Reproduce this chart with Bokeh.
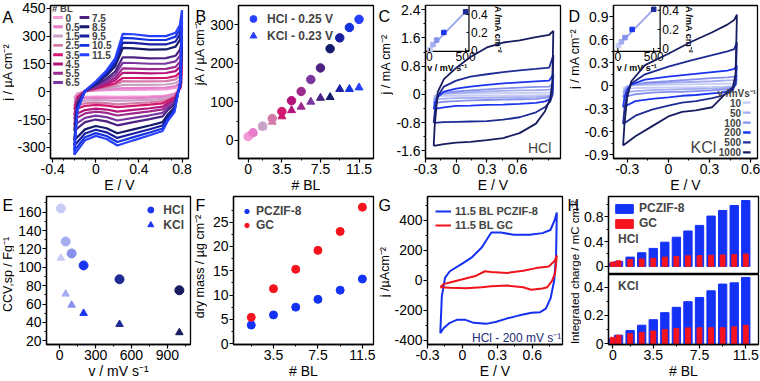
import numpy as np
from bokeh.plotting import figure
from bokeh.models import Range1d, FixedTicker, Legend, LegendItem, Label, BoxAnnotation
from bokeh.layouts import row, column
from bokeh.embed import file_html
from bokeh.resources import INLINE
from bokeh.core.properties import value

FONT = "Liberation Sans"

# ------------------------------------------------------------------ data
bl_layers = [0, 0.5, 1.5, 2.5, 3.5, 4.5, 5.5, 6.5, 7.5, 8.5, 9.5, 10.5, 11.5]
bl_labels = ["0", "0.5", "1.5", "2.5", "3.5", "4.5", "5.5", "6.5", "7.5", "8.5", "9.5", "10.5", "11.5"]
bl_colors = ["#f29ad6", "#e77dca", "#c8a2c6", "#d57aa8", "#d2186e", "#b3137b", "#9d2a8d",
             "#7a369f", "#4c2284", "#141a6c", "#1a1fa2", "#1432de", "#2740ff"]

# panel A : CVs (HCl) for each bilayer number, anodic and cathodic sweeps
cvA_E_fwd = [-0.2, -0.17, -0.1, 0.0, 0.1, 0.18, 0.25, 0.35, 0.5, 0.65, 0.74, 0.78, 0.8]
cvA_E_rev = [0.8, 0.785, 0.73, 0.67, 0.62, 0.5, 0.35, 0.2, 0.1, 0.0, -0.1, -0.2]
cvA_j_fwd = [
    [-30, -10, 2, 6, 9, 10, 10, 10, 11, 13, 20, 35, 60],
    [-40, -13, 2, 8, 12, 16, 20, 20, 21, 22, 30, 46, 73],
    [-58, -18, 2, 10, 18, 25, 37, 37, 37, 39, 47, 64, 94],
    [-78, -24, 3, 14, 25, 36, 57, 56, 56, 57, 66, 85, 119],
    [-96, -29, 3, 16, 32, 46, 74, 74, 73, 74, 84, 104, 141],
    [-125, -38, 3, 21, 41, 62, 102, 102, 99, 101, 111, 134, 176],
    [-149, -45, 3, 25, 50, 75, 126, 125, 122, 123, 134, 160, 206],
    [-180, -54, 4, 30, 60, 92, 156, 155, 151, 152, 164, 193, 244],
    [-211, -63, 4, 35, 71, 109, 186, 185, 180, 181, 194, 225, 282],
    [-262, -77, 4, 43, 88, 137, 236, 234, 227, 228, 243, 278, 344],
    [-291, -86, 5, 47, 98, 153, 265, 263, 255, 255, 271, 309, 380],
    [-318, -94, 5, 52, 107, 168, 290, 288, 279, 279, 297, 337, 413],
    [-340, -100, 5, 55, 115, 180, 312, 310, 300, 300, 318, 360, 440],
]
cvA_j_rev = [
    [60, 15, -10, -18, -22, -25, -26, -27, -26, -26, -27, -30],
    [73, 17, -13, -23, -28, -32, -34, -36, -34, -33, -35, -40],
    [94, 19, -19, -30, -39, -44, -47, -50, -46, -45, -48, -58],
    [119, 22, -25, -39, -51, -57, -62, -68, -61, -59, -63, -78],
    [141, 25, -31, -47, -63, -70, -76, -83, -75, -71, -77, -96],
    [176, 29, -41, -60, -80, -89, -98, -107, -96, -91, -99, -125],
    [206, 32, -48, -71, -95, -106, -117, -128, -114, -107, -117, -149],
    [244, 37, -59, -84, -114, -127, -141, -155, -137, -129, -141, -180],
    [282, 41, -68, -98, -133, -148, -164, -181, -160, -150, -164, -211],
    [344, 49, -85, -121, -164, -182, -203, -224, -197, -185, -203, -262],
    [380, 53, -94, -134, -182, -202, -225, -249, -219, -205, -225, -291],
    [413, 57, -103, -145, -198, -220, -245, -271, -239, -223, -245, -318],
    [440, 60, -110, -155, -212, -235, -262, -290, -255, -238, -262, -340],
]

# panel B : anodic peak currents
peak_hcl = [10, 20, 37, 57, 75, 103, 127, 158, 188, 238, 266, 293, 314]
peak_kcl = [10, 19, 34, 48, 62, 78, 87, 100, 110, 112, 133, 133, 137]

# scan rates (C, D, E)
scan_rates = [10, 50, 100, 200, 500, 1000]
rate_labels = ["10", "50", "100", "200", "500", "1000"]
rate_colors = ["#c6ccf4", "#a4adf0", "#8591ec", "#1b34f0", "#1e2b94", "#161c5e"]

# panel C : HCl CVs at several scan rates (mA cm-2)
cvC_E_up = [-0.22, -0.21, -0.18, -0.12, 0.0, 0.14, 0.3, 0.46, 0.62, 0.78, 0.91, 0.95]
cvC_E_dn = [0.95, 0.94, 0.92, 0.87, 0.78, 0.62, 0.46, 0.3, 0.14, 0.0, -0.12, -0.22]
cvC_j_up = [
    [-0.05, -0.03, -0.01, 0.01, 0.02, 0.025, 0.03, 0.035, 0.04, 0.045, 0.05, 0.08],
    [-0.14, -0.09, -0.02, 0.02, 0.04, 0.06, 0.08, 0.1, 0.11, 0.12, 0.13, 0.2],
    [-0.25, -0.15, -0.03, 0.04, 0.08, 0.11, 0.14, 0.17, 0.19, 0.21, 0.22, 0.32],
    [-0.42, -0.25, -0.08, 0.08, 0.16, 0.22, 0.27, 0.31, 0.34, 0.37, 0.39, 0.57],
    [-0.81, -0.5, -0.05, 0.22, 0.39, 0.5, 0.57, 0.63, 0.68, 0.72, 0.76, 1.11],
    [-1.46, -0.9, 0.07, 0.43, 0.75, 1.06, 1.33, 1.47, 1.53, 1.62, 1.69, 1.8],
]
cvC_j_dn = [
    [0.08, 0.0, -0.015, -0.02, -0.025, -0.03, -0.035, -0.04, -0.04, -0.04, -0.045, -0.05],
    [0.2, 0.0, -0.04, -0.06, -0.07, -0.08, -0.09, -0.1, -0.1, -0.11, -0.12, -0.14],
    [0.32, -0.01, -0.07, -0.1, -0.13, -0.14, -0.15, -0.16, -0.17, -0.19, -0.21, -0.25],
    [0.57, -0.02, -0.13, -0.2, -0.24, -0.27, -0.29, -0.3, -0.32, -0.33, -0.37, -0.42],
    [1.11, -0.02, -0.2, -0.36, -0.51, -0.65, -0.72, -0.76, -0.77, -0.78, -0.79, -0.81],
    [1.8, 0.34, -0.11, -0.47, -0.83, -1.1, -1.24, -1.3, -1.35, -1.37, -1.41, -1.46],
]
insC_v = [10, 50, 100, 200, 500]
insC_j = [0.01, 0.065, 0.115, 0.2, 0.43]
insC_fit_v = [0, 510]
insC_fit_j = [0.015, 0.44]

# panel D : KCl CVs at several scan rates (mA cm-2)
cvD_E_up = [-0.33, -0.32, -0.3, -0.27, -0.17, 0.0, 0.16, 0.32, 0.43, 0.48, 0.5]
cvD_E_dn = [0.5, 0.49, 0.47, 0.43, 0.39, 0.32, 0.2, 0.1, 0.0, -0.12, -0.24, -0.33]
cvD_j_up = [
    [-0.04, -0.02, -0.005, 0.005, 0.01, 0.015, 0.02, 0.025, 0.03, 0.03, 0.04],
    [-0.09, -0.05, -0.01, 0.01, 0.025, 0.04, 0.05, 0.06, 0.07, 0.075, 0.09],
    [-0.15, -0.08, -0.02, 0.01, 0.04, 0.06, 0.08, 0.1, 0.11, 0.12, 0.14],
    [-0.28, -0.15, -0.05, 0.02, 0.08, 0.12, 0.15, 0.18, 0.2, 0.22, 0.27],
    [-0.5, -0.3, -0.1, 0.03, 0.15, 0.25, 0.33, 0.4, 0.45, 0.48, 0.57],
    [-0.78, -0.5, -0.15, 0.06, 0.27, 0.42, 0.57, 0.7, 0.8, 0.86, 0.93],
]
cvD_j_dn = [
    [0.04, 0.005, -0.005, -0.01, -0.012, -0.015, -0.018, -0.02, -0.022, -0.025, -0.03, -0.04],
    [0.09, 0.01, -0.01, -0.02, -0.03, -0.035, -0.04, -0.045, -0.05, -0.055, -0.07, -0.09],
    [0.14, 0.01, -0.02, -0.04, -0.05, -0.06, -0.07, -0.08, -0.08, -0.09, -0.11, -0.15],
    [0.27, 0.02, -0.04, -0.07, -0.09, -0.1, -0.12, -0.13, -0.15, -0.17, -0.2, -0.28],
    [0.57, 0.05, -0.06, -0.1, -0.13, -0.16, -0.2, -0.22, -0.26, -0.31, -0.39, -0.5],
    [0.93, 0.15, -0.02, -0.08, -0.15, -0.28, -0.32, -0.34, -0.4, -0.53, -0.66, -0.78],
]
insD_v = [10, 50, 100, 200, 500]
insD_j = [0.03, 0.07, 0.115, 0.2, 0.41]
insD_fit_v = [0, 510]
insD_fit_j = [0.025, 0.42]

# panel E : specific capacitance vs scan rate
csp_hcl = [164, 128, 115, 102, 87, 75]
csp_kcl = [110, 71, 59, 50, 38, 29]

# panel F : dry mass
mass_bl = [1.5, 3.5, 5.5, 7.5, 9.5, 11.5]
mass_pczif = [3.8, 5.9, 7.5, 9.1, 11.0, 13.3]
mass_gc = [5.4, 11.3, 15.3, 19.2, 23.1, 28.1]

# panel G : 11.5 BL CVs, HCl 200 mV/s
cvG_pczif_E = [-0.19, -0.177, -0.149, -0.108, 0.002, 0.084, 0.166, 0.248, 0.331, 0.44, 0.578, 0.687,
               0.756, 0.792, 0.811, 0.805, 0.789, 0.758, 0.717, 0.665, 0.594, 0.49, 0.386, 0.284,
               0.202, 0.097, 0.026, -0.048, -0.108, -0.16, -0.19]
cvG_pczif_j = [-355, -110, 17, 60, 113, 155, 219, 319, 319, 304, 304, 315,
               336, 400, 453, 170, 0, -120, -190, -215, -218, -235, -255, -280,
               -292, -285, -265, -265, -285, -320, -355]
cvG_gc_E = [-0.19, -0.163, -0.108, 0.002, 0.111, 0.194, 0.248, 0.386, 0.523, 0.632, 0.742, 0.797,
            0.811, 0.797, 0.77, 0.729, 0.687, 0.591, 0.523, 0.386, 0.248, 0.166, 0.03, -0.108, -0.19]
cvG_gc_j = [-47, -26, -15, 6, 28, 60, 55, 49, 64, 81, 91, 134,
            166, 49, -4, -47, -55, -64, -47, -36, -40, -47, -53, -51, -47]

# panel H : integrated charge
charge_hcl_pczif = [0.05, 0.08, 0.15, 0.22, 0.29, 0.39, 0.47, 0.57, 0.66, 0.81, 0.90, 0.98, 1.06]
charge_hcl_gc = [0.07, 0.09, 0.11, 0.12, 0.13, 0.15, 0.16, 0.17, 0.175, 0.18, 0.185, 0.19, 0.2]
charge_kcl_pczif = [0.035, 0.06, 0.093, 0.131, 0.17, 0.22, 0.258, 0.298, 0.328, 0.375, 0.423, 0.432, 0.47]
charge_kcl_gc = [0.045, 0.06, 0.07, 0.08, 0.09, 0.1, 0.108, 0.112, 0.113, 0.113, 0.113, 0.12, 0.13]

BLUE = "#1432f5"
RED = "#f5141e"
NAVY = "#1c2a78"

FS = "14px"

# ------------------------------------------------------------------ helpers
def make_fig(w, h, xr, yr, bl, br, bt, bb, xaxis=True):
    p = figure(width=w, height=h, x_range=Range1d(*xr), y_range=Range1d(*yr),
               toolbar_location=None, output_backend="svg",
               x_axis_location="below" if xaxis else None,
               min_border_left=bl, min_border_right=br, min_border_top=bt, min_border_bottom=bb)
    p.grid.visible = False
    p.outline_line_color = "black"
    p.outline_line_width = 1.3
    p.outline_line_alpha = 1.0
    p.background_fill_color = "white"
    p.border_fill_color = "white"
    return p


def style_axis(ax, ticks, minor, label=None):
    ax.ticker = FixedTicker(ticks=ticks, minor_ticks=minor)
    ax.major_label_overrides = {t: f"{t:g}" for t in ticks}
    ax.axis_label = label
    ax.axis_label_text_font = FONT
    ax.axis_label_text_font_size = FS
    ax.axis_label_text_font_style = "normal"
    ax.axis_label_text_color = "black"
    ax.major_label_text_font = FONT
    ax.major_label_text_font_size = FS
    ax.major_label_text_color = "black"
    ax.major_tick_in = 0
    ax.major_tick_out = 4
    ax.minor_tick_in = 0
    ax.minor_tick_out = 2
    ax.major_label_standoff = 1
    ax.axis_label_standoff = 0
    ax.axis_line_width = 1.3
    ax.major_tick_line_width = 1.2
    ax.minor_tick_line_width = 1


def strip(w, h, letter, title, center_px, lx_px=0, ltop=0, tfs="12.5px"):
    """narrow figure holding a panel letter and the rotated y-axis title"""
    s = figure(width=w, height=h, x_range=Range1d(0, w), y_range=Range1d(0, h),
               x_axis_type=None, y_axis_type=None,
               toolbar_location=None, output_backend="svg", min_border=0)
    s.grid.visible = False
    s.outline_line_color = None
    s.border_fill_color = "white"
    s.background_fill_color = "white"
    s.add_layout(Label(x=lx_px, y=h - ltop, text=letter, text_font=FONT, text_font_size="16px",
                       text_baseline="top", text_align="left", text_color="black"))
    s.add_layout(Label(x=w / 2, y=h - center_px, text=title, angle=np.pi / 2, text_font=FONT,
                       text_font_size=tfs, text_align="center", text_baseline="middle",
                       text_color="black"))
    return s


def legend(items, **kw):
    base = dict(background_fill_alpha=0, border_line_alpha=0,
                label_text_font=FONT, label_text_font_style="bold",
                label_text_font_size="11px", padding=2, margin=3, spacing=0,
                label_standoff=4)
    base.update(kw)
    return Legend(items=items, **base)


R1, R2 = 195, 186
BB = 33
T1, T2 = 5, 1

# ------------------------------------------------------------------ A
pA = make_fig(178, R1, (-0.42, 0.86), (-360, 465), 33, 4, T1, BB)
style_axis(pA.xaxis[0], [-0.4, 0, 0.4, 0.8], [-0.3, -0.2, -0.1, 0.1, 0.2, 0.3, 0.5, 0.6, 0.7], "E / V")
style_axis(pA.yaxis[0], [-300, -150, 0, 150, 300, 450], [-225, -75, 75, 225, 375])
for k in range(len(bl_layers)):
    pA.line(cvA_E_fwd + cvA_E_rev[1:], cvA_j_fwd[k] + cvA_j_rev[k][1:],
            line_color=bl_colors[k], line_width=2.2)
# two-column legend "# BL"
pA.add_layout(Label(x=-0.405, y=447, text="# BL", text_font=FONT, text_font_size="9.5px",
                    text_font_style="bold", text_baseline="middle", text_align="left"))
for k in range(len(bl_layers)):
    col, r = divmod(k, 8)
    x0 = -0.395 + col * 0.245
    yk = 400 - r * 50
    pA.add_layout(BoxAnnotation(left=x0, right=x0 + 0.09, bottom=yk - 8, top=yk + 8,
                                fill_color=bl_colors[k], fill_alpha=1, line_alpha=0))
    pA.add_layout(Label(x=x0 + 0.115, y=yk, text=bl_labels[k], text_font=FONT,
                        text_font_size="10px", text_font_style="bold",
                        text_baseline="middle", text_align="left"))
sA = strip(14, R1, "A", "j / µA cm⁻²", 85, lx_px=2, ltop=5)

# ------------------------------------------------------------------ B
pB = make_fig(171, R1, (-1.0, 13.0), (-47, 350), 29, 5, T1, BB)
style_axis(pB.xaxis[0], [0, 3.5, 7.5, 11.5], [1.5, 5.5, 9.5], "# BL")
style_axis(pB.yaxis[0], [0, 100, 200, 300], [50, 150, 250])
rB_k = pB.scatter(bl_layers, peak_kcl, marker="triangle", size=8, color=bl_colors)
rB_h = pB.scatter(bl_layers, peak_hcl, marker="circle", size=8.5, color=bl_colors)
pB.add_layout(legend([LegendItem(label="HCl - 0.25 V", renderers=[rB_h], index=12),
                      LegendItem(label="KCl - 0.23 V", renderers=[rB_k], index=12)],
                     location="top_left", glyph_width=20, glyph_height=17, label_height=17,
                     label_text_font_size="12px", margin=3))
sB = strip(15, R1, "B", "jA / µA cm⁻²", 60, lx_px=3, ltop=3)

# ------------------------------------------------------------------ C
pC = make_fig(174, R1, (-0.3, 1.02), (-1.82, 2.52), 31, 7, T1, BB)
style_axis(pC.xaxis[0], [-0.3, 0, 0.3, 0.6], [-0.15, 0.15, 0.45, 0.75, 0.9], "E / V")
style_axis(pC.yaxis[0], [-1.6, -0.8, 0, 0.8, 1.6, 2.4], [-1.2, -0.4, 0.4, 1.2, 2.0])


def inset(p, xs, ys, xt, yt, v, j, fv, fj, title_dx):
    ins = p.subplot(x_source=Range1d(*xs), y_source=Range1d(*ys),
                    x_target=Range1d(*xt), y_target=Range1d(*yt))
    ins.quad(left=[xs[0]], right=[xs[1]], bottom=[ys[0]], top=[ys[1]],
             fill_color="white", line_color="black", line_width=1.2)
    ins.line(fv, fj, line_color="#9ea8e8", line_width=2)
    ins.scatter(v, j, marker="square", size=4.5, color=rate_colors[:5])
    xt_ticks = [0, 500]
    yt_ticks = [0, 0.2, 0.4]
    ins.segment(x0=xt_ticks, x1=xt_ticks, y0=[ys[0]] * 2, y1=[ys[0] + 0.035] * 2, line_color="black")
    ins.segment(x0=[xs[1]] * 3, x1=[xs[1] - 35] * 3, y0=yt_ticks, y1=yt_ticks, line_color="black")
    ins.text(x=xt_ticks, y=[ys[0]] * 2, y_offset=1, text=["0", "500"], text_align="center",
             text_baseline="top", text_font=value(FONT), text_font_size="12px")
    ins.text(x=[xs[1]] * 3, y=yt_ticks, x_offset=2, text=["0", "0.2", "0.4"], text_align="left",
             text_baseline="middle", text_font=value(FONT), text_font_size="12px")
    ins.text(x=[xs[1]], y=[(ys[0] + ys[1]) / 2], x_offset=title_dx, text=["jA /mA cm⁻²"],
             angle=-np.pi / 2, text_align="center", text_baseline="middle",
             text_font=value(FONT), text_font_size="9px", text_font_style="bold")
    ins.text(x=[(xs[0] + xs[1]) / 2], y=[ys[0]], y_offset=12, text=["v / mV s⁻¹"],
             text_align="center", text_baseline="top", text_font=value(FONT),
             text_font_size="9px", text_font_style="bold")


inset(pC, (-53, 546), (-0.01, 0.5), (-0.3, 0.125), (1.22, 2.52),
      insC_v, insC_j, insC_fit_v, insC_fit_j, 29)
for k in range(len(scan_rates)):
    pC.line(cvC_E_up + cvC_E_dn[1:], cvC_j_up[k] + cvC_j_dn[k][1:],
            line_color=rate_colors[k], line_width=1.8)
pC.add_layout(Label(x=0.93, y=-1.52, text="HCl", text_font=FONT, text_font_size="14px",
                    text_align="right", text_baseline="middle"))
sC = strip(15, R1, "C", "j / mA cm⁻²", 75, lx_px=0, ltop=3)

# ------------------------------------------------------------------ D
pD = make_fig(179, R1, (-0.4, 0.65), (-0.95, 1.05), 30, 3, T1, BB)
style_axis(pD.xaxis[0], [-0.3, 0, 0.3, 0.6], [-0.15, 0.15, 0.45], "E / V")
style_axis(pD.yaxis[0], [-0.9, -0.6, -0.3, 0, 0.3, 0.6, 0.9],
           [-0.75, -0.45, -0.15, 0.15, 0.45, 0.75])
inset(pD, (-60, 589), (-0.03, 0.45), (-0.4, -0.06), (0.45, 1.05),
      insD_v, insD_j, insD_fit_v, insD_fit_j, 29)
for k in range(len(scan_rates)):
    pD.line(cvD_E_up + cvD_E_dn[1:], cvD_j_up[k] + cvD_j_dn[k][1:],
            line_color=rate_colors[k], line_width=1.8)
pD.add_layout(Label(x=0.64, y=-0.1, text="v /mVs⁻¹", text_font=FONT,
                    text_font_size="10px", text_font_style="bold", text_align="right",
                    text_baseline="middle"))
for k in range(len(scan_rates)):
    yk = -0.22 - 0.13 * k
    pD.add_layout(Label(x=0.53, y=yk, text=rate_labels[k], text_font=FONT,
                        text_font_size="10px", text_font_style="bold", text_align="right",
                        text_baseline="middle"))
    pD.add_layout(BoxAnnotation(left=0.545, right=0.6, bottom=yk - 0.015, top=yk + 0.015,
                                fill_color=rate_colors[k], fill_alpha=1, line_alpha=0))
pD.add_layout(Label(x=0.35, y=-0.8, text="KCl", text_font=FONT, text_font_size="16px",
                    text_align="right", text_baseline="middle"))
sD = strip(14, R1, "D", "j / mA cm⁻²", 68, lx_px=1, ltop=3)

# ------------------------------------------------------------------ E
pE = make_fig(178, R2, (-110, 1093), (16, 177), 32, 2, T2, BB)
style_axis(pE.xaxis[0], [0, 300, 600, 900], [150, 450, 750, 1050], "v / mV s⁻¹")
style_axis(pE.yaxis[0], [20, 40, 60, 80, 100, 120, 140, 160],
           [30, 50, 70, 90, 110, 130, 150, 170])
rE_h = pE.scatter(scan_rates, csp_hcl, marker="circle", size=9, color=rate_colors)
rE_k = pE.scatter(scan_rates, csp_kcl, marker="triangle", size=7.5, color=rate_colors)
pE.add_layout(legend([LegendItem(label="HCl", renderers=[rE_h], index=3),
                      LegendItem(label="KCl", renderers=[rE_k], index=3)],
                     location="top_right", glyph_width=18, glyph_height=15, label_height=15,
                     label_text_font_size="12px", margin=4))
sE = strip(14, R2, "E", "CCV,sp / Fg⁻¹", 98, lx_px=2, ltop=0)

# ------------------------------------------------------------------ F
pF = make_fig(171, R2, (-0.1, 12.5), (-0.2, 30.3), 26, 5, T2, BB)
style_axis(pF.xaxis[0], [3.5, 7.5, 11.5], [1.5, 5.5, 9.5], "# BL")
style_axis(pF.yaxis[0], [0, 5, 10, 15, 20, 25], [2.5, 7.5, 12.5, 17.5, 22.5, 27.5])
rF_p = pF.scatter(mass_bl, mass_pczif, marker="circle", size=8, color=BLUE)
rF_g = pF.scatter(mass_bl, mass_gc, marker="circle", size=8, color=RED)
pF.add_layout(legend([LegendItem(label="PCZIF-8", renderers=[rF_p]),
                      LegendItem(label="GC", renderers=[rF_g])],
                     location="top_left", glyph_width=11, glyph_height=14, label_height=14,
                     label_text_font_size="12px", margin=6))
sF = strip(15, R2, "F", "dry mass / µg cm⁻²", 88, lx_px=3, ltop=0)

# ------------------------------------------------------------------ G
pG = make_fig(176, R2, (-0.3, 0.86), (-430, 560), 33, 5, T2, BB)
style_axis(pG.xaxis[0], [-0.3, 0, 0.3, 0.6], [-0.15, 0.15, 0.45, 0.75], "E / V")
style_axis(pG.yaxis[0], [-400, -200, 0, 200, 400], [-300, -100, 100, 300, 500])
rG_p = pG.line(cvG_pczif_E, cvG_pczif_j, line_color="#1530f0", line_width=2)
rG_g = pG.line(cvG_gc_E, cvG_gc_j, line_color="#f0141c", line_width=2)
pG.add_layout(legend([LegendItem(label="11.5 BL PCZIF-8", renderers=[rG_p]),
                      LegendItem(label="11.5 BL GC", renderers=[rG_g])],
                     location="top_left", glyph_width=16, glyph_height=14, label_height=14,
                     label_text_font_size="11px", margin=6))
pG.add_layout(Label(x=0.85, y=-385, text="HCl - 200 mV s⁻¹", text_font=FONT,
                    text_font_size="12px", text_color=NAVY, text_align="right",
                    text_baseline="middle"))
sG = strip(13, R2, "G", "j /µAcm⁻²", 95, lx_px=0, ltop=0)

# ------------------------------------------------------------------ H
HT = 79
sH = strip(14, R2, "H", "Integrated charge / mC cm⁻²", 95, lx_px=0, ltop=0, tfs="11.5px")

pH1 = make_fig(179, HT, (-0.37, 12.6), (-0.13, 1.125), 26, 2, T2, 0, xaxis=False)
style_axis(pH1.yaxis[0], [0, 0.4, 0.8], [0.2, 0.6, 1.0])
rH_p = pH1.vbar(x=bl_layers, top=charge_hcl_pczif, width=0.72, color=BLUE)
rH_g = pH1.vbar(x=bl_layers, top=charge_hcl_gc, width=0.42, color=RED)
pH1.add_layout(legend([LegendItem(label="PCZIF-8", renderers=[rH_p]),
                       LegendItem(label="GC", renderers=[rH_g])],
                      location="top_left", glyph_width=22, glyph_height=11, label_height=13,
                      label_text_font_size="12px", margin=3, spacing=1))
pH1.add_layout(Label(x=0.45, y=0.44, text="HCl", text_font=FONT, text_font_size="12px",
                     text_font_style="bold", text_align="left", text_baseline="middle"))

pH2 = make_fig(179, R2 - HT, (-0.37, 12.6), (-0.006, 0.491), 26, 2, 0, BB)
pH2.x_range = pH1.x_range
style_axis(pH2.xaxis[0], [0, 3.5, 7.5, 11.5], [1.5, 5.5, 9.5], "# BL")
style_axis(pH2.yaxis[0], [0, 0.2, 0.4], [0.1, 0.3])
pH2.vbar(x=bl_layers, top=charge_kcl_pczif, width=0.72, color=BLUE)
pH2.vbar(x=bl_layers, top=charge_kcl_gc, width=0.42, color=RED)
pH2.add_layout(Label(x=0.45, y=0.41, text="KCl", text_font=FONT, text_font_size="12px",
                     text_font_style="bold", text_align="left", text_baseline="middle"))

layout = column(row(sA, pA, sB, pB, sC, pC, sD, pD),
                row(sE, pE, sF, pF, sG, pG, sH, column(pH1, pH2)))

open("out.html", "w").write(file_html(layout, INLINE))
